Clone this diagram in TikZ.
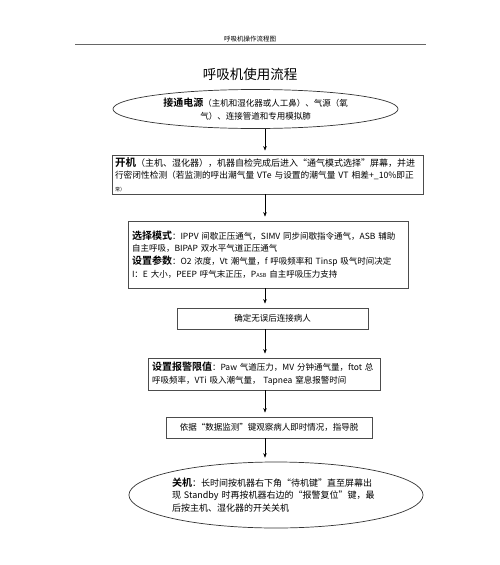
\documentclass[tikz,border=0pt]{standalone}
\usepackage{fontspec}
\setmainfont{Noto Sans CJK SC}[BoldFont={* Bold}]
\usetikzlibrary{shapes.geometric,arrows.meta}
\newcommand{\bodyfs}{\fontsize{8.5}{12.6}\selectfont}
\newcommand{\bigfs}{\fontsize{9}{12.6}\selectfont}
\newcommand{\hd}[1]{{\fontsize{10}{12.6}\selectfont\bfseries #1}}
\begin{document}
\begin{tikzpicture}[x=1pt,y=-1pt,
  box/.style={draw=black!70, line width=0.9pt, rectangle, inner xsep=4pt, inner ysep=1pt, align=left, font=\bodyfs},
  oval/.style={draw=black!80, line width=0.7pt, ellipse, inner sep=0pt, font=\bodyfs},
  arr/.style={line width=0.5pt, -{Stealth[length=4.5pt,width=3.5pt]}, shorten >=4pt}]
\useasboundingbox (0,0) rectangle (500,565);
\fill[white] (0,0) rectangle (500,565);
% header
\node[font=\fontsize{6.5}{7}\selectfont] (hdr) at (250,39.5) {呼吸机操作流程图};
\coordinate (hl) at (75,44.5);
\coordinate (hr) at (426,44.5);
\draw[black!60, line width=0.5pt] (hl) -- (hr);
\node[font=\fontsize{13.5}{15}\selectfont] (title) at (250,74) {呼吸机使用流程};
\coordinate (ax) at (265,0);
% ellipse 1
\node[oval, minimum width=285, minimum height=39, align=center] (e1) at (255.5,109)
  {\hd{接通电源}（主机和湿化器或人工鼻）、气源（氧\\气）、连接管道和专用模拟肺};
% box 2
\node[box, font=\bigfs, text width=305, inner xsep=3pt, minimum height=39] (b2) at (267.5,174.5)
  {{\fontsize{10.5}{12.6}\selectfont\bfseries 开机}（主机、湿化器），机器自检完成后进入“通气模式选择”屏幕，并进\\
   \mbox{\fontsize{8.7}{12.6}\selectfont 行密闭性检测（若监测的呼出潮气量 VTe 与设置的潮气量 VT 相差+\_10\%即正}\\
   {\fontsize{5}{6}\selectfont 常）}};
% box 3
\node[box, text width=272, minimum height=67] (b3) at (268,254.5)
  {\hd{选择模式}：IPPV 间歇正压通气，SIMV 同步间歇指令通气，ASB 辅助\\
   自主呼吸，BIPAP 双水平气道正压通气\\
   \hd{设置参数}：O2 浓度，Vt 潮气量，f 呼吸频率和 Tinsp 吸气时间决定\\
   I：E 大小，PEEP 呼气末正压，P{\fontsize{5.5}{6}\selectfont ASB} 自主呼吸压力支持};
% box 4
\node[box, text width=183, minimum height=21, align=center] (b4) at (272.5,318.5)
  {确定无误后连接病人};
% box 5
\node[box, text width=224, minimum height=32] (b5) at (264,374)
  {\hd{设置报警限值}：Paw 气道压力，MV 分钟通气量，ftot 总\\
   呼吸频率，VTi 吸入潮气量， Tapnea 窒息报警时间};
% box 6
\node[box, text width=198, minimum height=21, align=center] (b6) at (269,427.5)
  {依据“数据监测”键观察病人即时情况，指导脱};
% ellipse 7
\node[oval, font=\bigfs, minimum width=285, minimum height=66, text width=208, align=left] (e7) at (276,495)
  {\hd{关机}：长时间按机器右下角“待机键”直至屏幕出\\
   现 Standby 时再按机器右边的“报警复位”键，最\\
   后按主机、湿化器的开关关机};
% arrows
\draw[arr] (ax |- e1.south) -- (ax |- b2.north);
\draw[arr] (ax |- b2.south) -- (ax |- b3.north);
\draw[arr] (ax |- b3.south) -- (ax |- b4.north);
\draw[arr] (ax |- b4.south) -- (ax |- b5.north);
\draw[arr] (ax |- b5.south) -- (ax |- b6.north);
\draw[arr] (ax |- b6.south) -- (ax |- e7.north);
\end{tikzpicture}
\end{document}
